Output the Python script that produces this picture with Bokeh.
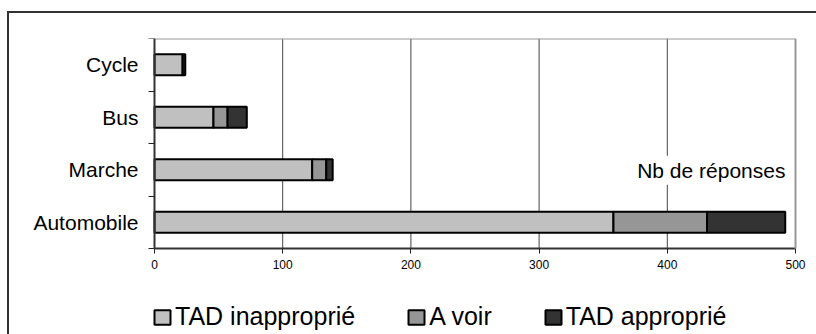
from bokeh.plotting import figure
from bokeh.models import (Range1d, FixedTicker, ColumnDataSource, Label, Legend,
                          LinearAxis, InlineStyleSheet)
from bokeh.embed import file_html
from bokeh.resources import INLINE

# ---- data ----
categories = ["Automobile", "Marche", "Bus", "Cycle"]
series = ["TAD inapproprié", "A voir", "TAD approprié"]
tad_inapproprie = [358, 123, 46, 22]
a_voir = [73, 11, 11, 0]
tad_approprie = [61, 5, 15, 2]
colors = ["#C0C0C0", "#969696", "#333333"]
x_ticks = [0, 100, 200, 300, 400, 500]
x_title = "Nb de réponses"

FONT = "Liberation Sans"
n = len(categories)
xmax = x_ticks[-1]
XPAD = 10.14  # room so that the "0" and "500" tick labels are not clipped

ypos = [i + 0.5 for i in range(n)]
source = ColumnDataSource(dict(y=ypos, cat=categories,
                               **{series[0]: tad_inapproprie,
                                  series[1]: a_voir,
                                  series[2]: tad_approprie}))

# frame covers bars area plus legend strip below (legend drawn inside frame)
p = figure(frame_width=667, frame_height=296, output_backend="svg",
           toolbar_location=None,
           x_range=Range1d(-XPAD, xmax + XPAD), y_range=Range1d(-1.638, n),
           min_border_left=141, min_border_right=8, min_border_top=38,
           min_border_bottom=0)
p.background_fill_color = "white"
p.border_fill_color = "white"
p.outline_line_color = None
# outer chart border (top and left edges visible; right/bottom lie off-window)
p.stylesheets = [InlineStyleSheet(css=(
    ":host::after { content: ''; position: absolute; left: 7px; top: 11px; "
    "right: 0; bottom: 0; border-left: 2px solid #333333; "
    "border-top: 2px solid #333333; pointer-events: none; z-index: 10; }"))]

p.xgrid.visible = False
p.ygrid.visible = False

# vertical grid lines limited to the plot area
grid_x = x_ticks[1:-1]
p.segment(x0=grid_x, y0=[0] * len(grid_x), x1=grid_x, y1=[n] * len(grid_x),
          line_color="#444444", line_width=1)

renderers = p.hbar_stack(series, y="y", height=0.4, color=colors,
                         line_color="black", line_width=2, source=source)

# x axis fixed at y = 0
xa = p.xaxis[0]
xa.fixed_location = 0
xa.bounds = (0, xmax)
xa.ticker = FixedTicker(ticks=x_ticks, minor_ticks=[])
xa.major_label_text_font = FONT
xa.major_label_text_font_size = "12px"
xa.major_label_text_color = "black"
xa.major_tick_out = 5
xa.major_tick_in = 0
xa.major_tick_line_color = "#222222"
xa.axis_line_color = "#333333"
xa.axis_line_width = 2
xa.major_label_standoff = 6

# category labels (left panel, labels only)
ya = p.yaxis[0]
ya.ticker = FixedTicker(ticks=ypos, minor_ticks=[])
ya.major_label_overrides = {y: c for y, c in zip(ypos, categories)}
ya.major_label_text_font = FONT
ya.major_label_text_font_size = "21px"
ya.major_label_text_color = "black"
ya.major_tick_line_color = None
ya.minor_tick_line_color = None
ya.axis_line_color = None
ya.major_tick_out = 0
ya.major_tick_in = 0
ya.major_label_standoff = 3

# y axis line at x = 0 with ticks between categories
y_line = LinearAxis(fixed_location=0, bounds=(0, n),
                    ticker=FixedTicker(ticks=list(range(n + 1)), minor_ticks=[]),
                    axis_line_color="#333333", axis_line_width=2,
                    major_tick_line_color="#222222", major_tick_out=6,
                    major_tick_in=0, minor_tick_line_color=None,
                    major_label_text_font_size="0px")
p.add_layout(y_line, "left")

# gray top and right edges of the plot area
def border_axis(loc, bounds):
    return LinearAxis(fixed_location=loc, bounds=bounds,
                      ticker=FixedTicker(ticks=[], minor_ticks=[]),
                      axis_line_color="#999999", axis_line_width=2,
                      major_tick_line_color=None, minor_tick_line_color=None,
                      major_label_text_font_size="0px")

p.add_layout(border_axis(n, (0, xmax)), "above")
p.add_layout(border_axis(xmax, (0, n)), "right")

# axis title inside the plot
p.add_layout(Label(x=494.5, y=1.49, text=x_title, text_align="right",
                   text_baseline="middle", text_font=FONT, text_font_size="21px",
                   text_color="black", background_fill_color="white", padding=3))

# legend (inside the frame's lower strip)
legend = Legend(items=[(s, [r]) for s, r in zip(series, renderers)],
                orientation="horizontal", location=(11, 3),
                border_line_color=None, background_fill_alpha=0,
                padding=0, margin=0, spacing=51, glyph_width=20, glyph_height=18,
                label_standoff=3, label_text_font=FONT,
                label_text_font_size="25px", label_text_color="black")
p.add_layout(legend, "center")

open("out.html", "w").write(file_html(p, INLINE))
